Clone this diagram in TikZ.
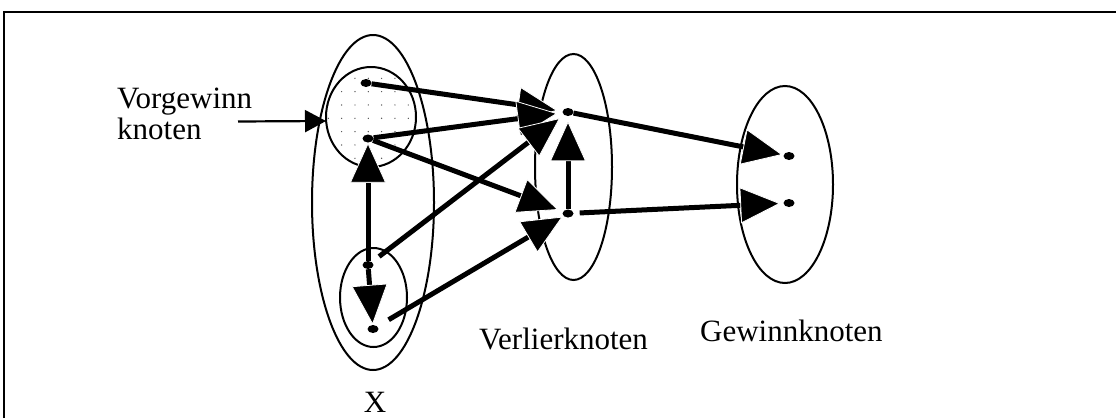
\documentclass[tikz,border=0pt]{standalone}
\usepackage{fontspec}
\setmainfont{Liberation Serif}
\usetikzlibrary{arrows.meta,shapes.geometric}

\begin{document}
\begin{tikzpicture}[x=1pt,y=-1pt,
  set/.style={draw, ellipse, line width=2pt, inner sep=0pt},
  dot/.style={ellipse, fill, inner sep=0pt, minimum width=11pt, minimum height=8pt},
  move/.style={line width=5pt,
    -{Triangle[length=40pt,width=36pt,line width=0.8pt,color=white,fill=black]}},
  txt/.style={font=\fontsize{31}{33}\selectfont, inner sep=0pt, anchor=base west}]
\useasboundingbox (0,0) rectangle (1116,418);

% frame
\draw[line width=2.5pt] (4,418) -- (4,12) -- (1116,12);

% sets
\node[set, minimum width=122pt, minimum height=335pt] (X) at (373,202.5) {};
\node[set, minimum width=90pt, minimum height=100pt] (pre) at (371,117) {};
\node[set, minimum width=67pt, minimum height=99pt] (low) at (373.5,297.5) {};
\node[set, minimum width=77pt, minimum height=226pt] (lose set) at (573.5,167) {};
\node[set, minimum width=96pt, minimum height=197pt] (win set) at (785,184.5) {};

% stippled region
\begin{scope}
  \clip (371,117) ellipse [x radius=44pt, y radius=49pt];
  \foreach \i in {0,...,7}
    \foreach \j in {0,...,7}
      \fill[black!70] (328.3+13.33*\i, 65+13.33*\j) circle (0.7pt);
\end{scope}

% vertices
\node[dot] (A) at (366,83) {};
\node[dot] (B) at (368,138.5) {};
\node[dot] (C) at (368,265) {};
\node[dot] (D) at (373,329) {};
\node[dot] (M1) at (568,112) {};
\node[dot] (M2) at (568,213.5) {};
\node[dot] (R1) at (789,156) {};
\node[dot] (R2) at (789,203) {};

% moves
\draw[move, shorten >=5pt] (A) -- (M1);
\draw[move, shorten >=5pt] (B) -- (M1);
\draw[move, shorten <=9pt, shorten >=5pt] (C) -- (M1);
\draw[move, shorten >=5pt] (B) -- (M2);
\draw[move, shorten <=13pt, shorten >=1pt] (D) -- (M2);
\draw[move] (C) -- (B);
\draw[move] (C) -- (D);
\draw[move, shorten >=5pt] (M2) -- (M1);
\draw[move, shorten >=1pt] (M1) -- (R1);
\draw[move, shorten <=6pt, shorten >=3pt] (M2) -- (R2);

% labels
\node[txt] (vg1) at (117,108) {Vorgewinn};
\node[txt] (vg2) at (117,139) {knoten};
\node[txt] (lose) at (479,349) {Verlierknoten};
\node[txt] (win) at (700,341) {Gewinnknoten};
\node[txt, anchor=base] (xl) at (375,412) {X};

\coordinate (vgs) at (238,121.5);
\coordinate (vgt) at (326,121);
\draw[line width=2.2pt, -{Triangle[length=21pt,width=22pt]}] (vgs) -- (vgt);
\end{tikzpicture}
\end{document}
